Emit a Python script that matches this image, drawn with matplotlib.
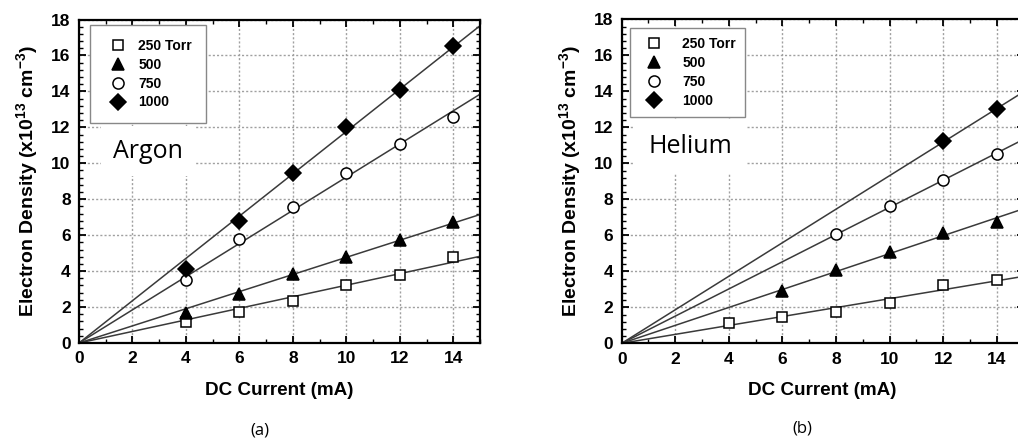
import numpy as np
import matplotlib
matplotlib.use("Agg")
import matplotlib.pyplot as plt
from matplotlib.ticker import MultipleLocator

# ---------------- data ----------------
labels = ["250 Torr", "500", "750", "1000"]

argon_x = [4, 6, 8, 10, 12, 14]
argon_250 = [1.15, 1.74, 2.35, 3.20, 3.80, 4.81]
argon_500 = [1.67, 2.72, 3.83, 4.78, 5.74, 6.76]
argon_750 = [3.52, 5.78, 7.56, 9.48, 11.10, 12.56]
argon_1000 = [4.11, 6.81, 9.48, 12.04, 14.10, 16.54]

helium_x_250 = [4, 6, 8, 10, 12, 14]
helium_250 = [1.11, 1.48, 1.72, 2.26, 3.24, 3.52]
helium_x_500 = [6, 8, 10, 12, 14]
helium_500 = [2.90, 4.10, 5.05, 6.15, 6.75]
helium_x_750 = [8, 10, 12, 14]
helium_750 = [6.07, 7.63, 9.06, 10.50]
helium_x_1000 = [12, 14]
helium_1000 = [11.22, 13.00]

xticks = [0, 2, 4, 6, 8, 10, 12, 14]
yticks = [0, 2, 4, 6, 8, 10, 12, 14, 16, 18]

# ---------------- style ----------------
markers = ["s", "^", "o", "D"]
msizes = [7.5, 9, 8, 8]
filled = [False, True, False, True]
bold_font = "Liberation Sans"
text_font = "Open Sans"

plt.rcParams["mathtext.fontset"] = "custom"
plt.rcParams["mathtext.rm"] = "Liberation Sans:bold"
plt.rcParams["mathtext.bf"] = "Liberation Sans:bold"

W, H = 1018, 441
fig = plt.figure(figsize=(W / 100, H / 100), dpi=100)


def add_panel(px_left, px_right, px_top, px_bottom):
    return fig.add_axes([px_left / W, 1 - px_bottom / H,
                         (px_right - px_left) / W, (px_bottom - px_top) / H])


def style_axes(ax):
    ax.set_xlim(0, 15)
    ax.set_ylim(0, 18)
    ax.set_xticks(xticks)
    ax.set_yticks(yticks)
    ax.xaxis.set_minor_locator(MultipleLocator(1))
    ax.yaxis.set_minor_locator(MultipleLocator(0.4))
    ax.tick_params(which="both", direction="in", top=True, right=True)
    ax.tick_params(which="major", length=5, width=1.3, pad=6)
    ax.tick_params(which="minor", length=3, width=1.0)
    for lab in ax.get_xticklabels() + ax.get_yticklabels():
        lab.set_fontfamily(bold_font)
        lab.set_fontweight("bold")
        lab.set_fontsize(12.5)
    for sp in ax.spines.values():
        sp.set_linewidth(1.6)
    ax.grid(True, which="major", color="#a0a0a0", linestyle=(0, (1.5, 1.5)), linewidth=1.0)
    ax.set_axisbelow(True)
    ax.set_xlabel("DC Current (mA)", fontfamily=bold_font, fontweight="bold",
                  fontsize=13.6, labelpad=11)
    ax.set_ylabel(r"Electron Density (x10$^{\mathbf{13}}$ cm$^{\mathbf{-3}}$)",
                  fontfamily=bold_font, fontweight="bold", fontsize=14, labelpad=7)


def draw_series(ax, xs_list, ys_list):
    handles = []
    xl = np.array(ax.get_xlim())
    for i, (xs, ys) in enumerate(zip(xs_list, ys_list)):
        xs = np.asarray(xs, float)
        ys = np.asarray(ys, float)
        slope = np.sum(xs * ys) / np.sum(xs * xs)
        ax.plot(xl, slope * xl, color="#3a3a3a", lw=1.1, zorder=2)
        h, = ax.plot(xs, ys, linestyle="none", marker=markers[i], ms=msizes[i],
                     mfc="black" if filled[i] else "white", mec="black",
                     mew=1.1, zorder=3, label=labels[i])
        handles.append(h)
    return handles


# ---- panel (a) Argon ----
ax1 = add_panel(79, 480, 19.5, 343)
style_axes(ax1)
h1 = draw_series(ax1, [argon_x] * 4, [argon_250, argon_500, argon_750, argon_1000])
leg1 = ax1.legend(handles=h1, loc="upper left", bbox_to_anchor=(0.027, 0.983),
                  prop={"family": bold_font, "weight": "bold", "size": 10},
                  numpoints=1, handlelength=2.0, handletextpad=0.5,
                  labelspacing=0.35, borderpad=1.0, borderaxespad=0,
                  fancybox=False, framealpha=1, edgecolor="#888888")
leg1.get_frame().set_linewidth(1.0)
ax1.text(0.172, 0.592, "Argon", transform=ax1.transAxes, ha="center", va="center",
         fontfamily=text_font, fontsize=18,
         bbox=dict(facecolor="white", edgecolor="none", pad=9), zorder=4)
ax1.text(0.45, -0.27, "(a)", transform=ax1.transAxes, ha="center", va="center",
         fontfamily=text_font, fontsize=12)

# ---- panel (b) Helium ----
ax2 = add_panel(621.7, 1023.5, 19.3, 343.3)
style_axes(ax2)
h2 = draw_series(ax2, [helium_x_250, helium_x_500, helium_x_750, helium_x_1000],
                 [helium_250, helium_500, helium_750, helium_1000])
leg2 = ax2.legend(handles=h2, loc="upper left", bbox_to_anchor=(0.021, 0.974),
                  prop={"family": bold_font, "weight": "bold", "size": 10},
                  numpoints=1, handlelength=2.2, handletextpad=0.9,
                  labelspacing=0.36, borderpad=0.65, borderaxespad=0,
                  fancybox=False, framealpha=1, edgecolor="#888888")
leg2.get_frame().set_linewidth(1.0)
ax2.text(0.17, 0.607, "Helium", transform=ax2.transAxes, ha="center", va="center",
         fontfamily=text_font, fontsize=18,
         bbox=dict(facecolor="white", edgecolor="none", pad=10), zorder=4)
ax2.text(0.45, -0.262, "(b)", transform=ax2.transAxes, ha="center", va="center",
         fontfamily=text_font, fontsize=12)

fig.savefig("out.png", dpi=100)
